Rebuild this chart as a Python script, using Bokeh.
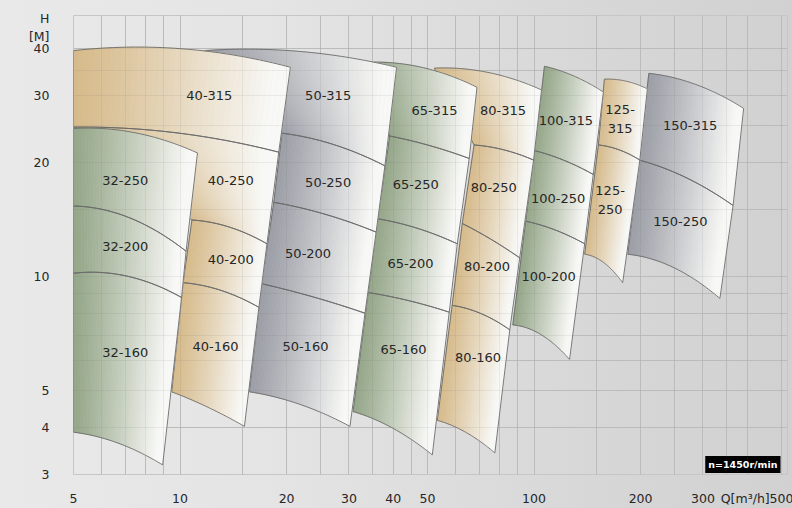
import numpy as np
from bokeh.plotting import figure
from bokeh.models import ColumnDataSource, FixedTicker, Grid, Label, NumeralTickFormatter
from bokeh.core.properties import value
from bokeh.embed import file_html
from bokeh.resources import INLINE

# ---- data: Q [m3/h], H [m] ----
# each impeller curve given by (left, middle, right) points; regions lie between consecutive curves
names_32 = ["32-250", "32-200", "32-160"]
curves_32 = [[(5.0, 24.6), (8.2, 23.5), (11.2, 21.2)],
             [(5.0, 15.35), (8.2, 13.5), (10.4, 11.66)],
             [(5.0, 10.2), (8.2, 9.63), (10.1, 8.80)],
             [(5.0, 3.88), (6.9, 3.59), (8.93, 3.18)]]
names_40 = ["40-315", "40-250", "40-200", "40-160"]
curves_40 = [[(5.0, 39.5), (13.8, 38.6), (20.5, 35.7)],
             [(5.0, 24.8), (11.35, 23.5), (19.0, 21.3)],
             [(10.8, 14.1), (13.8, 13.5), (17.6, 12.2)],
             [(10.2, 9.63), (13.1, 9.18), (16.7, 8.29)],
             [(9.47, 4.96), (11.9, 4.53), (15.2, 4.02)]]
names_50 = ["50-315", "50-250", "50-200", "50-160"]
curves_50 = [[(11.7, 39.5), (29.8, 37.9), (40.9, 35.7)],
             [(19.4, 23.9), (27.4, 22.25), (37.9, 19.6)],
             [(18.4, 15.7), (25.7, 14.6), (35.8, 13.1)],
             [(17.0, 9.57), (24.1, 8.80), (33.3, 8.0)],
             [(15.7, 4.96), (21.6, 4.61), (30.2, 4.02)]]
names_65 = ["65-315", "65-250", "65-200", "65-160"]
curves_65 = [[(34.0, 36.8), (53.3, 34.8), (69.0, 31.6)],
             [(39.1, 23.5), (50.0, 22.25), (65.6, 20.5)],
             [(36.2, 14.2), (46.9, 13.4), (60.7, 12.2)],
             [(34.0, 9.07), (43.9, 8.65), (57.6, 8.05)],
             [(30.8, 4.40), (40.4, 3.95), (51.6, 3.38)]]
names_80 = ["80-315", "80-250", "80-200", "80-160"]
curves_80 = [[(52.3, 35.5), (82.2, 33.8), (105.0, 31.1)],
             [(67.7, 22.25), (82.2, 21.6), (99.7, 20.3)],
             [(62.7, 13.8), (76.0, 12.5), (91.1, 11.2)],
             [(58.7, 8.39), (70.4, 8.0), (85.4, 7.23)],
             [(53.3, 4.17), (64.7, 3.86), (77.5, 3.42)]]
names_100 = ["100-315", "100-250", "100-200"]
curves_100 = [[(107.0, 35.9), (130.0, 33.8), (157.0, 30.7)],
              [(100.4, 21.5), (121.0, 20.3), (147.0, 18.6)],
              [(94.7, 14.0), (114.0, 13.3), (139.0, 12.2)],
              [(87.1, 7.45), (105.0, 7.01), (126.0, 6.04)]]
names_125 = ["125-\n315", "125-\n250"]
curves_125 = [[(158.0, 33.2), (182.0, 32.8), (209.0, 31.3)],
              [(152.0, 22.25), (174.0, 21.6), (199.0, 20.3)],
              [(139.0, 11.45), (158.0, 10.85), (178.0, 9.63)]]
names_150 = ["150-315", "150-250"]
curves_150 = [[(211.0, 34.4), (285.0, 32.2), (391.0, 27.8)],
              [(198.0, 20.3), (267.0, 18.3), (365.0, 15.4)],
              [(184.0, 11.45), (251.0, 10.5), (335.0, 8.75)]]

# label anchor of each region (Q, H)
label_q = {"32": [7.0, 7.0, 7.0], "40": [12.1, 13.9, 13.9, 12.6], "50": [26.2, 26.2, 23.0, 22.6],
           "65": [52.3, 46.3, 44.8, 42.8], "80": [81.7, 77.0, 73.6, 69.5],
           "100": [123.0, 117.0, 110.0], "125": [175.0, 164.0], "150": [276.0, 259.0]}
label_h = {"32": [17.9, 12.0, 6.3], "40": [30.0, 17.9, 11.1, 6.53], "50": [30.0, 17.7, 11.5, 6.53],
           "65": [27.4, 17.5, 10.85, 6.41], "80": [27.4, 17.2, 10.6, 6.11],
           "100": [25.8, 16.1, 9.98], "125": [26.1, 15.9], "150": [25.1, 13.96]}

x_ticks = [5, 10, 20, 30, 40, 50, 100, 200, 300, 500]
y_ticks = [3, 4, 5, 10, 20, 30, 40]
x_title_at, x_title = 395, "Q[m³/h]"
y_title_at = {48: "H", 43: "[M]"}
x_grid = [5, 6, 7, 8, 9, 10, 15, 20, 25, 30, 35, 40, 45, 50, 60, 70, 80, 90, 100, 150, 200, 250, 300, 350, 400, 500]
y_grid = [3, 4, 5, 6, 7, 8, 9, 10, 15, 20, 25, 30, 35, 40]
speed_text = "n=1450r/min"

GREEN = (148, 166, 136)
TAN = (214, 186, 138)
GRAY = (156, 158, 166)
WHITE = (248, 248, 246)

columns = [
    ("32", GREEN, names_32, curves_32),
    ("40", TAN, names_40, curves_40),
    ("50", GRAY, names_50, curves_50),
    ("65", GREEN, names_65, curves_65),
    ("80", TAN, names_80, curves_80),
    ("100", GREEN, names_100, curves_100),
    ("125", TAN, names_125, curves_125),
    ("150", GRAY, names_150, curves_150),
]


def curve_fn(pts):
    a = np.log10([p[0] for p in pts])
    b = np.log10([p[1] for p in pts])
    coef = np.polyfit(a, b, 2)

    def f(t):
        aa = a[0] + (a[2] - a[0]) * np.asarray(t, dtype=float)
        return aa, np.polyval(coef, aa)
    return f


def mix(c1, c2, s):
    r = [int(round(c1[i] + (c2[i] - c1[i]) * s)) for i in range(3)]
    return "#%02x%02x%02x" % tuple(r)


p = figure(width=792, height=508, x_axis_type="log", y_axis_type="log",
           x_range=(5.0, 520.0), y_range=(3.0, 48.9),
           output_backend="svg", toolbar_location=None,
           min_border_left=73, min_border_right=5, min_border_top=15, min_border_bottom=26)
p.styles = {"background": "linear-gradient(to right, #e9e9e9 0%, #e4e4e4 35%, #d7d7d7 75%, #d1d1d1 100%)"}
p.border_fill_color = None
p.background_fill_color = None
p.outline_line_color = "#c6c6c6"

p.xgrid.ticker = FixedTicker(ticks=x_grid)
p.ygrid.ticker = FixedTicker(ticks=y_grid)
for g in (p.xgrid, p.ygrid):
    g.grid_line_color = "#c4c4c4"
    g.grid_line_width = 1

N = 40
for key, col, names, curves in reversed(columns):
    fns = [curve_fn(c) for c in curves]
    xs, ys, cs = [], [], []
    oxs, oys = [], []
    for i in range(len(names)):
        ft, fb = fns[i], fns[i + 1]
        for k in range(N):
            t0, t1 = k / N, (k + 1) / N
            at0, bt0 = ft(t0)
            at1, bt1 = ft(t1)
            ab0, bb0 = fb(t0)
            ab1, bb1 = fb(t1)
            xs.append(list(10 ** np.array([at0, at1, ab1, ab0])))
            ys.append(list(10 ** np.array([bt0, bt1, bb1, bb0])))
            s = min(1.0, ((k + 0.5) / N) / 0.93) ** 1.15
            cs.append(mix(col, WHITE, s))
        tt = np.linspace(0, 1, 50)
        at, bt = ft(tt)
        ab, bb = fb(tt[::-1])
        ox = np.concatenate([at, ab, at[:1]])
        oy = np.concatenate([bt, bb, bt[:1]])
        oxs.append(list(10 ** ox))
        oys.append(list(10 ** oy))
    src = ColumnDataSource(dict(xs=xs, ys=ys, c=cs))
    p.patches("xs", "ys", source=src, fill_color="c", line_color="c", line_width=0.7)
    p.multi_line(oxs, oys, line_color="#6a6a6a", line_width=0.9)

# faint grid through the regions
for dim, tk in ((0, x_grid), (1, y_grid)):
    p.add_layout(Grid(dimension=dim, ticker=FixedTicker(ticks=tk), grid_line_color="#707070",
                      grid_line_alpha=0.10, level="overlay"))

lq, lh, lt = [], [], []
for key, col, names, curves in columns:
    lq += label_q[key]
    lh += label_h[key]
    lt += names
p.text(x="q", y="h", text="t", source=ColumnDataSource(dict(q=lq, h=lh, t=lt)),
       text_font=value("DejaVu Sans"), text_font_size="13px", text_color="#262626",
       text_align="center", text_baseline="middle", text_line_height=1.25)

for ax in (p.xaxis, p.yaxis):
    ax.axis_line_color = None
    ax.major_tick_line_color = None
    ax.minor_tick_line_color = None
    ax.major_label_text_font = "DejaVu Sans"
    ax.major_label_text_font_size = "12.5px"
    ax.major_label_text_color = "#262626"
    ax.formatter = NumeralTickFormatter(format="0")
p.xaxis.ticker = FixedTicker(ticks=x_ticks + [x_title_at])
p.xaxis.major_label_overrides = {x_title_at: x_title}
p.yaxis.ticker = FixedTicker(ticks=y_ticks + list(y_title_at.keys()))
p.yaxis.major_label_overrides = dict(y_title_at)
p.xaxis.major_label_standoff = 10
p.yaxis.major_label_standoff = 18

p.add_layout(Label(x=389, y=3.19, text=speed_text, text_align="center", text_baseline="middle",
                   text_font="DejaVu Sans", text_font_style="bold", text_font_size="9.5px",
                   text_color="white", background_fill_color="black", padding=3))

open("out.html", "w").write(file_html(p, INLINE))
